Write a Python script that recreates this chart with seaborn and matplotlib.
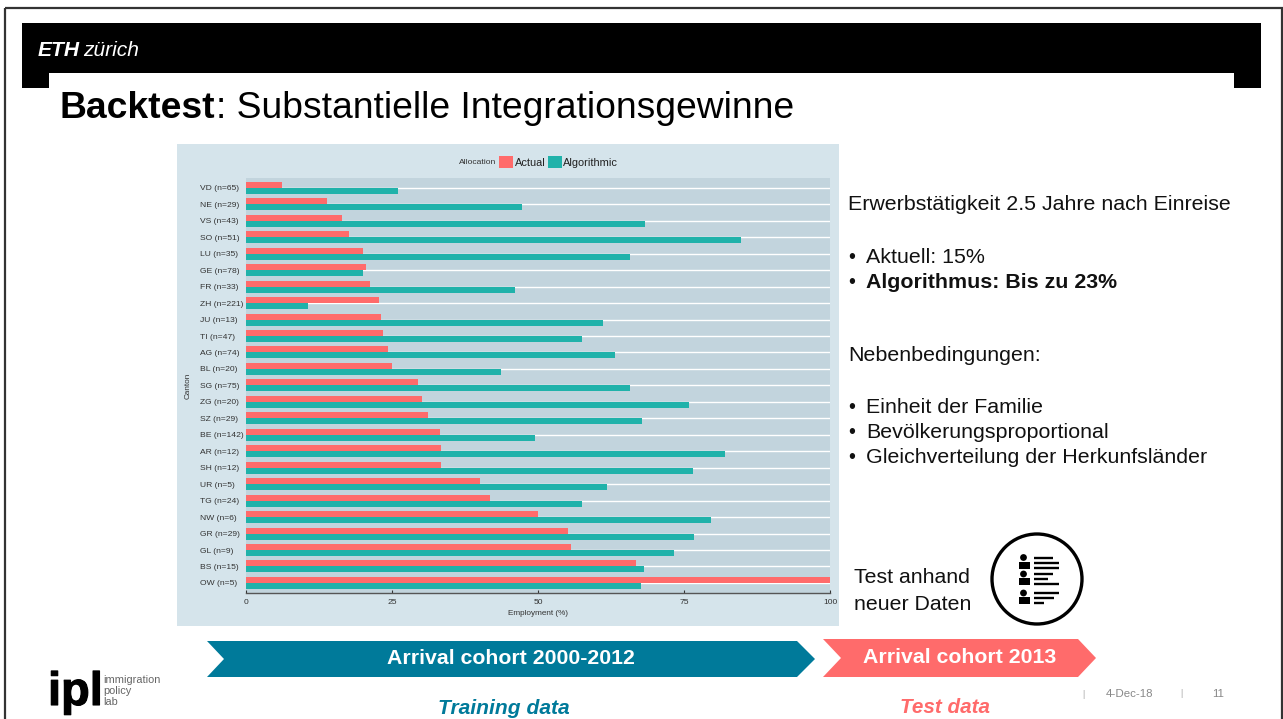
import matplotlib
matplotlib.use("Agg")
import matplotlib.pyplot as plt
import matplotlib.patheffects as pe
from matplotlib.patches import Polygon, Rectangle, Circle
import pandas as pd
import seaborn as sns

cantons = ["VD (n=65)", "NE (n=29)", "VS (n=43)", "SO (n=51)", "LU (n=35)", "GE (n=78)", "FR (n=33)",
           "ZH (n=221)", "JU (n=13)", "TI (n=47)", "AG (n=74)", "BL (n=20)", "SG (n=75)", "ZG (n=20)",
           "SZ (n=29)", "BE (n=142)", "AR (n=12)", "SH (n=12)", "UR (n=5)", "TG (n=24)", "NW (n=6)",
           "GR (n=29)", "GL (n=9)", "BS (n=15)", "OW (n=5)"]
actual = [6.2, 13.9, 16.4, 17.6, 20.0, 20.5, 21.2, 22.8, 23.1, 23.5, 24.3, 25.0, 29.5, 30.1, 31.2,
          33.2, 33.4, 33.4, 40.1, 41.8, 50.0, 55.1, 55.7, 66.8, 100.0]
algorithmic = [26.0, 47.3, 68.3, 84.8, 65.8, 20.0, 46.1, 10.6, 61.1, 57.5, 63.2, 43.7, 65.8, 75.9, 67.8,
               49.5, 82.0, 76.5, 61.8, 57.5, 79.6, 76.7, 73.3, 68.2, 67.6]
x_ticks = [0, 25, 50, 75, 100]

W, H = 1283, 719
RED, TEAL, BLUE = "#FF6B6B", "#20B2AA", "#007A9A"
PANEL, PLOTBG = "#D5E4EB", "#C2D4DD"
FONT = "Liberation Sans"

sns.set_theme(style="white", font=FONT)
plt.rcParams["font.family"] = [FONT, "DejaVu Sans"]


def pt(px):
    return px * 0.72


fig = plt.figure(figsize=(W / 100, H / 100), dpi=100, facecolor="white")

# Slide layer, in pixel coordinates
bg = fig.add_axes([0, 0, 1, 1], zorder=0)
bg.set_xlim(0, W)
bg.set_ylim(H, 0)
bg.axis("off")


def txt(x, y, s, px, **kw):
    kw.setdefault("va", "baseline")
    kw.setdefault("color", "#111111")
    return bg.text(x, y, s, fontsize=pt(px), **kw)


# Frame
bg.add_patch(Rectangle((5, 7.5), W - 6.5, H, fill=False, ec="#333333", lw=1.6))
# Header
bg.add_patch(Polygon([(22, 23), (1261, 23), (1261, 88), (1234, 88), (1234, 73), (49, 73), (49, 88), (22, 88)],
                     fc="black", ec="none"))
txt(38, 56, "ETH", 21, color="white", fontweight="bold", style="italic")
txt(83, 56, "zürich", 21, color="white", style="italic")

t = txt(59, 118, "Backtest", 37.3, fontweight="bold", color="black")
fig.canvas.draw()
tw = t.get_window_extent().width
txt(59 + tw + 1, 118, ": Substantielle Integrationsgewinne", 37.3, color="black")

# Chart panel
bg.add_patch(Rectangle((177, 144), 662, 482, fc=PANEL, ec="none"))

# Right column
txt(848, 210, "Erwerbstätigkeit 2.5 Jahre nach Einreise", 21.4)
for y, s, w in [(263, "Aktuell: 15%", "normal"), (288, "Algorithmus: Bis zu 23%", "bold"),
                (413, "Einheit der Familie", "normal"), (438, "Bevölkerungsproportional", "normal"),
                (463, "Gleichverteilung der Herkunfsländer", "normal")]:
    txt(848, y, "•", 20)
    txt(866, y, s, 21.4, fontweight=w)
txt(848, 361, "Nebenbedingungen:", 21.4)
txt(854, 583, "Test anhand", 21.3)
txt(854, 610, "neuer Daten", 21.3)

# Icon
bg.add_patch(Circle((1037, 579), 45, fill=False, ec="black", lw=2.4))
for hy, lines in [(557.5, (1053, 1059, 1059)), (574, (1053, 1048, 1059)), (593, (1059, 1054, 1044))]:
    bg.add_patch(Circle((1023.5, hy), 3.4, fc="black", ec="none"))
    bg.add_patch(Rectangle((1019, hy + 4), 11, 7, fc="black", ec="none"))
    for i, xe in enumerate(lines):
        bg.plot([1034, xe], [hy + i * 5, hy + i * 5], color="black", lw=1.7, solid_capstyle="butt")

# Arrows
bg.add_patch(Polygon([(207, 641), (797, 641), (815, 659), (797, 677), (207, 677), (224, 659)], fc=BLUE, ec="none"))
bg.add_patch(Polygon([(823, 639), (1078, 639), (1096, 658), (1078, 677), (823, 677), (841, 658)], fc=RED, ec="none"))
txt(510.5, 664, "Arrival cohort 2000-2012", 21.3, color="white", fontweight="bold", ha="center")
txt(959.5, 663, "Arrival cohort 2013", 21.3, color="white", fontweight="bold", ha="center")
txt(504, 714, "Training data", 21, color=BLUE, fontweight="bold", style="italic", ha="center")
txt(945.5, 713, "Test data", 20.6, color=RED, fontweight="bold", style="italic", ha="center")

# Logo
txt(48, 705, "ipl", 47, color="black", fontweight="bold",
    path_effects=[pe.withStroke(linewidth=0.8, foreground="black")])
for y, s in [(683, "immigration"), (694, "policy"), (705, "lab")]:
    txt(103, y, s, 11, color="#666666")

# Footer
txt(1082, 697, "|", 9, color="#AAAAAA")
txt(1106, 697, "4-Dec-18", 11.5, color="#888888")
txt(1180, 696, "|", 9, color="#AAAAAA")
txt(1212, 697, "11", 11.5, color="#888888")

# Chart
x0, x1, y0, y1 = 246, 830, 178, 592.8
ax = fig.add_axes([x0 / W, 1 - y1 / H, (x1 - x0) / W, (y1 - y0) / H], zorder=1)
ax.set_facecolor(PLOTBG)
df = pd.DataFrame({
    "Canton": cantons * 2,
    "Employment": actual + algorithmic,
    "Allocation": ["Actual"] * len(cantons) + ["Algorithmic"] * len(cantons),
})
sns.barplot(data=df, y="Canton", x="Employment", hue="Allocation", order=cantons,
            hue_order=["Actual", "Algorithmic"], palette=[RED, TEAL], width=0.73, gap=0,
            saturation=1, dodge=True, ax=ax, legend=True, linewidth=0)
ax.set_xlim(0, 100)
ax.set_ylim(24.6, -0.6)
ax.set_xticks(x_ticks)
ax.set_xticklabels([str(v) for v in x_ticks])
ax.set_axisbelow(True)
ax.grid(True, axis="y", color="white", lw=1.0)
ax.grid(False, axis="x")
for s in ["top", "left", "right"]:
    ax.spines[s].set_visible(False)
ax.spines["bottom"].set_color("#555555")
ax.spines["bottom"].set_linewidth(1.0)
ax.tick_params(axis="y", length=0, labelsize=pt(8.5), pad=pt(46.5), labelcolor="#333333")
for lab in ax.get_yticklabels():
    lab.set_ha("left")
ax.tick_params(axis="x", direction="in", length=2.4, width=0.8, color="#333333",
               labelsize=pt(8.5), pad=4.5, labelcolor="#333333", bottom=True)
ax.set_xlabel("Employment (%)", fontsize=pt(8.2), color="#333333")
ax.set_ylabel("Canton", fontsize=pt(8.2), color="#333333")
to_ax = ax.transAxes.inverted()
ax.xaxis.set_label_coords(*to_ax.transform((538, H - 610)))
ax.yaxis.set_label_coords(*to_ax.transform((192, H - 386)))

handles, labels = ax.get_legend_handles_labels()
ax.legend(handles, labels, ncol=2, loc="center left", frameon=False,
          bbox_to_anchor=(499 / W, 1 - 162 / H), bbox_transform=fig.transFigure,
          fontsize=pt(11), borderpad=0, borderaxespad=0, handlelength=1.27, handleheight=1.27,
          handletextpad=0.15, columnspacing=0.2, labelcolor="#222222")
txt(459, 164, "Allocation", 8.5, color="#333333", zorder=5)

fig.savefig("out.png", dpi=100, facecolor="white")
